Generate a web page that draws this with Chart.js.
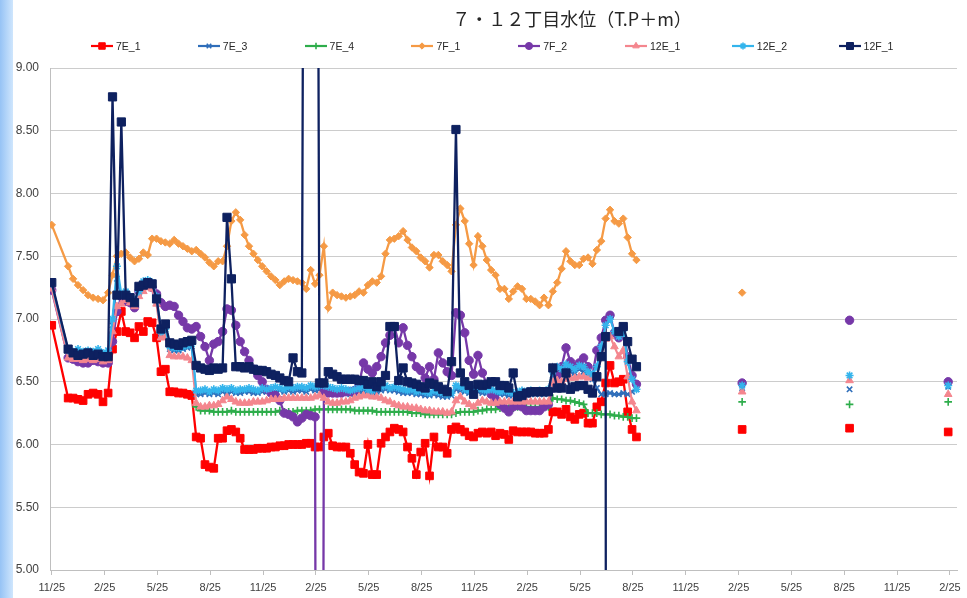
<!DOCTYPE html>
<html><head><meta charset="utf-8">
<script src="https://cdn.jsdelivr.net/npm/chart.js@4.4.1/dist/chart.umd.min.js"></script>
<style>
html,body{margin:0;padding:0;background:#fff;}
#wrap{position:relative;width:967px;height:598px;overflow:hidden;background:#fff;}
#strip{position:absolute;left:0;top:0;width:13px;height:598px;background:linear-gradient(to right,#96c3f5,#cfe6fd);}
#title{position:absolute;top:5px;left:372px;width:400px;text-align:center;font-family:"Noto Sans CJK JP","Noto Sans",sans-serif;font-size:18px;color:#262626;line-height:26px;white-space:nowrap;}
.lg{position:absolute;top:39px;height:14px;display:flex;align-items:center;font-family:"Liberation Sans Narrow","Liberation Sans",Arial,sans-serif;font-size:10.5px;color:#262626;white-space:nowrap;}
.lg canvas{margin-right:3px;}
#c{position:absolute;left:0;top:0;}
</style></head>
<body><div id="wrap"><div id="strip"></div><canvas id="c" width="967" height="598"></canvas><div id="title">７・１２丁目水位（T.P＋m）</div><div id="legend"></div></div>
<script>
// time of each weekly reading, months after the first 11/25
const t = [0,0.93,1.21,1.49,1.78,2.06,2.35,2.63,2.91,3.2,
3.45,3.7,3.95,4.2,4.45,4.7,4.95,5.2,5.45,5.7,
5.95,6.2,6.45,6.7,6.95,7.2,7.45,7.7,7.95,8.2,
8.45,8.7,8.95,9.2,9.45,9.7,9.95,10.2,10.45,10.7,
10.95,11.2,11.45,11.7,11.95,12.2,12.45,12.7,12.95,13.2,
13.45,13.7,13.95,14.2,14.45,14.7,14.95,15.2,15.45,15.7,
15.95,16.2,16.45,16.7,16.95,17.2,17.45,17.7,17.95,18.2,
18.45,18.7,18.95,19.2,19.45,19.7,19.95,20.2,20.45,20.7,
20.95,21.2,21.45,21.7,21.95,22.2,22.45,22.7,22.95,23.2,
23.45,23.7,23.95,24.2,24.45,24.7,24.95,25.2,25.45,25.7,
25.95,26.2,26.45,26.7,26.95,27.2,27.45,27.7,27.95,28.2,
28.45,28.7,28.95,29.2,29.45,29.7,29.95,30.2,30.45,30.7,
30.95,31.2,31.45,31.7,31.95,32.2,32.45,32.7,32.95,33.2];
const lateT = [39.2, 45.3, 50.9];
const tickMonths = [0,3,6,9,12,15,18,21,24,27,30,33,36,39,42,45,48,51];
const tickLabels = ['11/25','2/25','5/25','8/25','11/25','2/25','5/25','8/25','11/25','2/25','5/25','8/25','11/25','2/25','5/25','8/25','11/25','2/25'];
const seriesNames = ['7E_1','7E_3','7E_4','7F_1','7F_2','12E_1','12E_2','12F_1'];

const v7E_1 = [6.95,6.37,6.37,6.36,6.35,6.40,6.41,6.40,6.34,6.41,
6.76,6.90,7.06,6.90,6.89,6.85,6.94,6.90,6.98,6.97,
6.85,6.58,6.60,6.42,6.42,6.41,6.41,6.40,6.39,6.06,
6.05,5.84,5.82,5.81,6.05,6.05,6.11,6.12,6.10,6.05,
5.96,5.96,5.96,5.97,5.97,5.97,5.98,5.98,5.99,5.99,
6.00,6.00,6.00,6.00,6.01,6.01,5.98,5.98,6.06,6.09,
5.99,5.98,5.98,5.98,5.93,5.84,5.78,5.77,6.00,5.76,
5.76,6.01,6.06,6.10,6.13,6.12,6.10,5.98,5.89,5.76,
5.94,6.01,5.75,6.06,5.98,5.98,5.93,6.12,6.14,6.12,
6.10,6.07,6.06,6.09,6.10,6.09,6.10,6.07,6.09,6.08,
6.04,6.11,6.10,6.10,6.10,6.10,6.09,6.09,6.09,6.12,
6.26,6.26,6.24,6.28,6.22,6.20,6.24,6.25,6.17,6.17,
6.30,6.34,6.49,6.63,6.49,6.50,6.52,6.26,6.12,6.06];
const v7E_3 = [7.27,6.72,6.71,6.72,6.70,6.71,6.72,6.71,6.70,6.71,
6.95,7.32,7.17,7.18,7.16,7.12,7.20,7.27,7.28,7.27,
7.15,6.88,6.90,6.76,6.75,6.75,6.76,6.77,6.78,6.40,
6.40,6.41,6.40,6.41,6.40,6.42,6.41,6.42,6.41,6.41,
6.42,6.42,6.41,6.41,6.42,6.42,6.43,6.42,6.43,6.42,
6.43,6.42,6.43,6.43,6.42,6.44,6.43,6.44,6.44,6.43,
6.42,6.42,6.42,6.41,6.40,6.41,6.42,6.43,6.42,6.41,
6.42,6.43,6.44,6.43,6.43,6.42,6.41,6.41,6.41,6.40,
6.40,6.39,6.39,6.40,6.39,6.38,6.38,6.39,6.44,6.43,
6.42,6.41,6.41,6.42,6.41,6.41,6.41,6.40,6.40,6.40,
6.39,6.39,6.40,6.40,6.40,6.40,6.40,6.40,6.40,6.41,
6.55,6.58,6.57,6.60,6.58,6.57,6.60,6.58,6.55,6.52,
6.45,6.40,6.40,6.41,6.40,6.40,6.41,6.40,6.42,6.44];
const v7E_4 = [null,null,null,null,null,null,null,null,null,null,
null,null,null,null,null,null,null,null,null,null,
null,null,null,null,null,null,null,null,null,6.30,
6.27,6.27,6.27,6.26,6.26,6.26,6.26,6.27,6.26,6.26,
6.26,6.26,6.26,6.26,6.26,6.26,6.26,6.26,6.27,6.26,
6.26,6.26,6.27,6.27,6.27,6.27,6.28,6.28,6.28,6.28,
6.28,6.28,6.28,6.28,6.28,6.27,6.27,6.27,6.27,6.27,
6.26,6.26,6.26,6.26,6.26,6.26,6.26,6.26,6.25,6.25,
6.25,6.24,6.24,6.24,6.24,6.24,6.24,6.24,6.25,6.26,
6.26,6.26,6.26,6.27,6.27,6.28,6.28,6.28,6.29,6.29,
6.29,6.29,6.30,6.30,6.30,6.30,6.30,6.30,6.30,6.30,
6.37,6.36,6.36,6.35,6.35,6.34,6.33,6.32,6.25,6.25,
6.25,6.24,6.24,6.24,6.23,6.23,6.22,6.22,6.21,6.21];
const v7F_1 = [7.75,7.42,7.32,7.27,7.23,7.19,7.17,7.16,7.15,7.21,
7.35,7.50,7.52,7.53,7.49,7.46,7.48,7.53,7.51,7.64,
7.64,7.62,7.61,7.60,7.63,7.60,7.58,7.56,7.54,7.55,
7.52,7.49,7.45,7.42,7.46,7.46,7.58,7.78,7.85,7.79,
7.67,7.58,7.52,7.47,7.42,7.38,7.34,7.31,7.27,7.30,
7.32,7.31,7.30,7.29,7.24,7.39,7.28,7.35,7.58,7.09,
7.21,7.19,7.18,7.17,7.18,7.19,7.22,7.21,7.27,7.30,
7.29,7.34,7.52,7.63,7.64,7.66,7.70,7.63,7.57,7.54,
7.49,7.46,7.41,7.51,7.51,7.46,7.43,7.38,7.75,7.88,
7.78,7.60,7.43,7.66,7.58,7.47,7.39,7.35,7.24,7.24,
7.16,7.22,7.26,7.24,7.16,7.16,7.14,7.11,7.17,7.11,
7.22,7.29,7.40,7.54,7.46,7.43,7.43,7.48,7.49,7.44,
7.55,7.62,7.80,7.87,7.78,7.76,7.80,7.65,7.52,7.47];
const v7F_2 = [7.23,6.69,6.68,6.66,6.65,6.65,6.67,6.66,6.65,6.65,
6.82,7.06,7.18,7.14,7.13,7.09,7.22,7.26,7.27,7.25,
7.20,7.13,7.10,7.11,7.10,7.03,6.98,6.93,6.92,6.94,
6.86,6.78,6.67,6.80,6.82,6.90,7.08,7.07,6.95,6.82,
6.74,6.67,6.60,6.55,6.50,6.44,6.41,6.39,6.35,6.25,
6.24,6.22,6.18,6.21,6.24,6.23,6.22,-10,6.42,6.41,
6.41,6.41,6.41,6.42,6.42,6.43,6.48,6.65,6.60,6.57,
6.62,6.70,6.81,6.87,6.94,6.81,6.93,6.79,6.70,6.62,
6.59,6.53,6.62,6.52,6.73,6.65,6.58,6.55,7.05,7.03,
6.89,6.67,6.56,6.71,6.57,6.48,6.40,6.36,6.32,6.29,
6.26,6.30,6.31,6.30,6.27,6.27,6.27,6.27,6.30,6.32,
6.45,6.55,6.62,6.77,6.66,6.62,6.65,6.69,6.62,6.55,
6.75,6.85,6.99,7.03,6.89,6.85,6.93,6.70,6.55,6.48];
const v12E_1 = [7.24,6.69,6.68,6.68,6.67,6.68,6.67,6.68,6.66,6.67,
6.90,7.10,7.12,7.15,7.13,7.10,7.18,7.22,7.25,7.24,
7.12,6.85,6.86,6.71,6.70,6.70,6.70,6.69,6.67,6.33,
6.30,6.30,6.31,6.31,6.32,6.35,6.38,6.36,6.34,6.33,
6.33,6.33,6.34,6.34,6.34,6.35,6.36,6.36,6.36,6.37,
6.37,6.37,6.37,6.37,6.37,6.37,6.38,6.39,6.37,6.34,
6.33,6.33,6.34,6.34,6.35,6.37,6.38,6.39,6.39,6.38,
6.38,6.37,6.35,6.34,6.32,6.31,6.30,6.30,6.29,6.29,
6.28,6.27,6.27,6.26,6.26,6.26,6.25,6.26,6.35,6.38,
6.34,6.32,6.30,6.33,6.35,6.34,6.33,6.33,6.34,6.34,
6.34,6.34,6.34,6.34,6.34,6.34,6.34,6.34,6.34,6.34,
6.50,6.51,6.50,6.52,6.53,6.53,6.54,6.54,6.53,6.54,
6.54,6.70,6.84,6.86,6.78,6.70,6.75,6.54,6.34,6.27];
const v12E_2 = [7.28,6.75,6.74,6.76,6.74,6.75,6.74,6.76,6.73,6.75,
7.00,7.42,7.20,7.22,7.18,7.15,7.22,7.30,7.31,7.29,
7.18,6.90,6.92,6.78,6.77,6.77,6.78,6.79,6.80,6.43,
6.43,6.44,6.42,6.44,6.43,6.45,6.44,6.45,6.43,6.44,
6.44,6.45,6.44,6.43,6.45,6.44,6.45,6.46,6.45,6.44,
6.46,6.45,6.46,6.46,6.45,6.47,6.46,6.47,6.47,6.46,
6.45,6.44,6.45,6.44,6.43,6.44,6.45,6.46,6.44,6.43,
6.45,6.46,6.47,6.45,6.46,6.45,6.44,6.43,6.44,6.42,
6.43,6.42,6.41,6.43,6.42,6.41,6.40,6.41,6.47,6.46,
6.44,6.43,6.44,6.45,6.44,6.43,6.44,6.43,6.42,6.43,
6.42,6.41,6.42,6.43,6.42,6.43,6.42,6.43,6.42,6.44,
6.58,6.62,6.60,6.64,6.62,6.60,6.63,6.62,6.58,6.56,
6.62,6.78,6.95,7.00,6.90,6.86,6.92,6.66,6.52,6.44];
const v12F_1 = [7.29,6.76,6.73,6.71,6.72,6.73,6.71,6.72,6.70,6.70,
8.77,7.19,8.57,7.19,7.17,7.13,7.26,7.27,7.29,7.28,
7.16,6.92,6.96,6.81,6.80,6.79,6.81,6.82,6.83,6.63,
6.61,6.60,6.59,6.61,6.60,6.61,7.81,7.32,6.62,6.62,
6.61,6.62,6.60,6.59,6.59,6.58,6.56,6.55,6.53,6.51,
6.50,6.69,6.58,6.57,18,18,18,6.49,6.49,6.58,
6.56,6.54,6.52,6.52,6.52,6.52,6.51,6.51,6.48,6.50,
6.46,6.50,6.55,6.94,6.94,6.51,6.61,6.50,6.49,6.48,
6.46,6.45,6.49,6.48,6.46,6.44,6.42,6.66,8.51,6.57,
6.50,6.47,6.40,6.48,6.47,6.48,6.50,6.50,6.47,6.47,
6.45,6.57,6.38,6.39,6.41,6.42,6.42,6.42,6.42,6.42,
6.61,6.45,6.45,6.57,6.44,6.46,6.47,6.47,6.44,6.41,
6.54,6.70,6.86,-50,null,6.90,6.94,6.82,6.68,6.62];

// isolated later readings (2/25, 8/25, 2/25)
const late7E_1 = [6.12, 6.13, 6.10];
const late7E_3 = [6.45, 6.44, 6.46];
const late7E_4 = [6.34, 6.32, 6.34];
const late7F_1 = [7.21, null, null];
const late7F_2 = [6.49, 6.99, 6.50];
const late12E_1 = [6.42, 6.51, 6.40];
const late12E_2 = [6.47, 6.55, 6.47];
const late12F_1 = [null, null, null];

const valueSets = [v7E_1, v7E_3, v7E_4, v7F_1, v7F_2, v12E_1, v12E_2, v12F_1];
const lateSets = [late7E_1, late7E_3, late7E_4, late7F_1, late7F_2, late12E_1, late12E_2, late12F_1];

const looks = [
  {color:'#FF0000', ps:'rect', r:5.4, pbw:1, lw:2.3},
  {color:'#2F6EBA', ps:'crossRot', r:3.8, pbw:1.6, lw:2.2},
  {color:'#2EAD4B', ps:'cross', r:3.8, pbw:1.6, lw:2.2},
  {color:'#F59A45', ps:'rectRot', r:3.7, pbw:1, lw:2.3},
  {color:'#7638A8', ps:'circle', r:4.2, pbw:1, lw:2.3},
  {color:'#F4868E', ps:'triangle', r:4.4, pbw:1, lw:2.2},
  {color:'#33B4EC', ps:'star', r:4, pbw:1.6, lw:2.2},
  {color:'#0E2160', ps:'rect', r:5.8, pbw:1, lw:2.3}
];

function buildPoints(vals, late){
  const d = vals.map((v,i)=>({x:t[i], y:v}));
  lateT.forEach((lx,j)=>{ d.push({x:lx-1.5, y:null}); d.push({x:lx, y:late[j]}); });
  return d;
}

const datasets = seriesNames.map((name,k)=>({
  label:name,
  data:buildPoints(valueSets[k], lateSets[k]),
  borderColor:looks[k].color, backgroundColor:looks[k].color,
  pointBackgroundColor:looks[k].color, pointBorderColor:looks[k].color,
  pointStyle:looks[k].ps, pointRadius:looks[k].r, pointHoverRadius:looks[k].r,
  pointBorderWidth:looks[k].pbw, borderWidth:looks[k].lw,
  tension:0, spanGaps:false, order:7-k
}));

// legend (HTML text + small drawn swatch)
function drawMark(ctx, style, x, y, r, color, bw){
  ctx.fillStyle=color; ctx.strokeStyle=color; ctx.lineWidth=bw;
  if (window.Chart && Chart.helpers && Chart.helpers.drawPoint){
    Chart.helpers.drawPoint(ctx,{pointStyle:style,radius:r,rotation:0,borderWidth:bw},x,y);
  }
}
const lg = document.getElementById('legend');
seriesNames.forEach((name,k)=>{
  const item = document.createElement('div');
  item.className='lg';
  item.style.left=(91+106.8*k)+'px';
  const cv = document.createElement('canvas');
  cv.width=22; cv.height=14;
  const cx = cv.getContext('2d');
  cx.strokeStyle=looks[k].color; cx.lineWidth=2.2;
  cx.beginPath(); cx.moveTo(0,7); cx.lineTo(22,7); cx.stroke();
  drawMark(cx, looks[k].ps, 11, 7, looks[k].r*0.85, looks[k].color, looks[k].pbw);
  item.appendChild(cv);
  const sp=document.createElement('span'); sp.textContent=name; item.appendChild(sp);
  lg.appendChild(item);
});

new Chart(document.getElementById('c'),{
  type:'line',
  data:{datasets},
  options:{
    responsive:false, animation:false, events:[],
    layout:{padding:{top:68,right:10,left:0,bottom:0}},
    plugins:{legend:{display:false}, title:{display:false}, tooltip:{enabled:false}},
    scales:{
      x:{type:'linear', min:-0.1, max:51.4,
        afterFit:(s)=>{s.height=28;},
        afterBuildTicks:(s)=>{s.ticks=tickMonths.map(v=>({value:v}));},
        ticks:{autoSkip:false, maxRotation:0, padding:6, color:'#404040',
          font:{family:'"Liberation Sans", Arial, sans-serif', size:11},
          callback:(v)=>{const i=tickMonths.indexOf(v); return i>=0?tickLabels[i]:'';}},
        grid:{drawOnChartArea:false, drawTicks:true, tickLength:5, color:'#bfbfbf'},
        border:{color:'#bfbfbf'}
      },
      y:{min:5, max:9,
        afterFit:(s)=>{s.width=50;},
        ticks:{stepSize:0.5, padding:11, color:'#404040',
          font:{family:'"Liberation Sans", Arial, sans-serif', size:12},
          callback:(v)=>Number(v).toFixed(2)},
        grid:{color:'#cccccc', drawTicks:false},
        border:{color:'#bfbfbf'}
      }
    }
  }
});
</script>
</body></html>
